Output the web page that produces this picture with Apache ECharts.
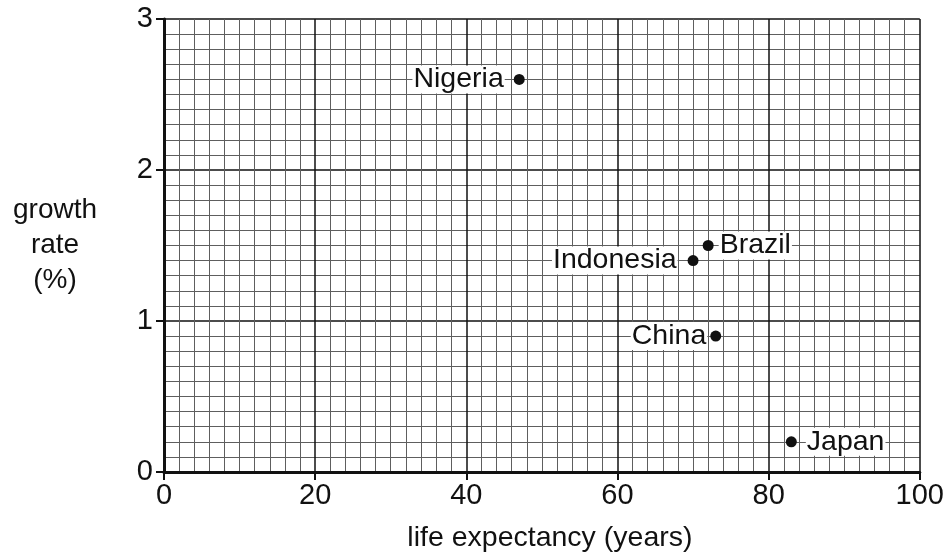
<!DOCTYPE html>
<html>
<head>
<meta charset="utf-8">
<script src="https://cdn.jsdelivr.net/npm/echarts@6/dist/echarts.min.js"></script>
<style>html,body{margin:0;padding:0;background:#fff}#c{width:947px;height:558px}</style>
</head>
<body>
<div id="c"></div>
<script>
const countries = ['Nigeria', 'Brazil', 'Indonesia', 'China', 'Japan'];
const lifeExpectancy = [47, 72, 70, 73, 83];
const growthRate = [2.6, 1.5, 1.4, 0.9, 0.2];
const labelSide = ['left', 'right', 'left', 'left', 'right'];
const labelGap = [9, 5, 10, 3, 9];
const xTicks = [0, 20, 40, 60, 80, 100];
const yTicks = [0, 1, 2, 3];

const FONT = 'Liberation Sans, Arial, sans-serif';
const INK = '#111';
const chart = echarts.init(document.getElementById('c'), null, {renderer: 'canvas'});

const data = countries.map((n, i) => ({
  name: n,
  value: [lifeExpectancy[i], growthRate[i]],
  label: {position: labelSide[i], distance: labelGap[i]}
}));

chart.setOption({
  animation: false,
  backgroundColor: '#fff',
  grid: {left: 164, right: 25, top: 19, bottom: 85, containLabel: false},
  xAxis: {
    type: 'value', min: xTicks[0], max: xTicks[xTicks.length - 1], interval: 20,
    name: 'life expectancy (years)', nameLocation: 'middle', nameGap: 52,
    nameTextStyle: {fontFamily: FONT, fontSize: 28.5, color: INK, padding: [0, 0, 0, 16]},
    axisLine: {show: true, onZero: false, lineStyle: {color: INK, width: 3}},
    axisTick: {show: true, length: 8, lineStyle: {color: INK, width: 2}},
    axisLabel: {fontFamily: FONT, fontSize: 29, color: INK, margin: 9},
    splitLine: {show: true, lineStyle: {color: INK, width: 1.5}},
    minorTick: {show: false, splitNumber: 10},
    minorSplitLine: {show: true, lineStyle: {color: '#5e5e5e', width: 1}}
  },
  yAxis: {
    type: 'value', min: yTicks[0], max: yTicks[yTicks.length - 1], interval: 1,
    name: 'growth\nrate\n(%)', nameLocation: 'middle', nameRotate: 0, nameGap: 109,
    nameTextStyle: {fontFamily: FONT, fontSize: 28, color: INK, align: 'center', lineHeight: 35},
    axisLine: {show: true, onZero: false, lineStyle: {color: INK, width: 3}},
    axisTick: {show: true, length: 8, lineStyle: {color: INK, width: 2}},
    axisLabel: {fontFamily: FONT, fontSize: 29, color: INK, margin: 11},
    splitLine: {show: true, lineStyle: {color: INK, width: 1.5}},
    minorTick: {show: false, splitNumber: 10},
    minorSplitLine: {show: true, lineStyle: {color: '#5e5e5e', width: 1}}
  },
  series: [{
    type: 'scatter',
    symbol: 'circle',
    symbolSize: 11,
    itemStyle: {color: INK, opacity: 1},
    label: {
      show: true,
      formatter: '{b}',
      fontFamily: FONT, fontSize: 28.5, color: INK,
      backgroundColor: '#fff', padding: [0, 1, -1, 1]
    },
    data: data
  }]
});
</script>
</body>
</html>
